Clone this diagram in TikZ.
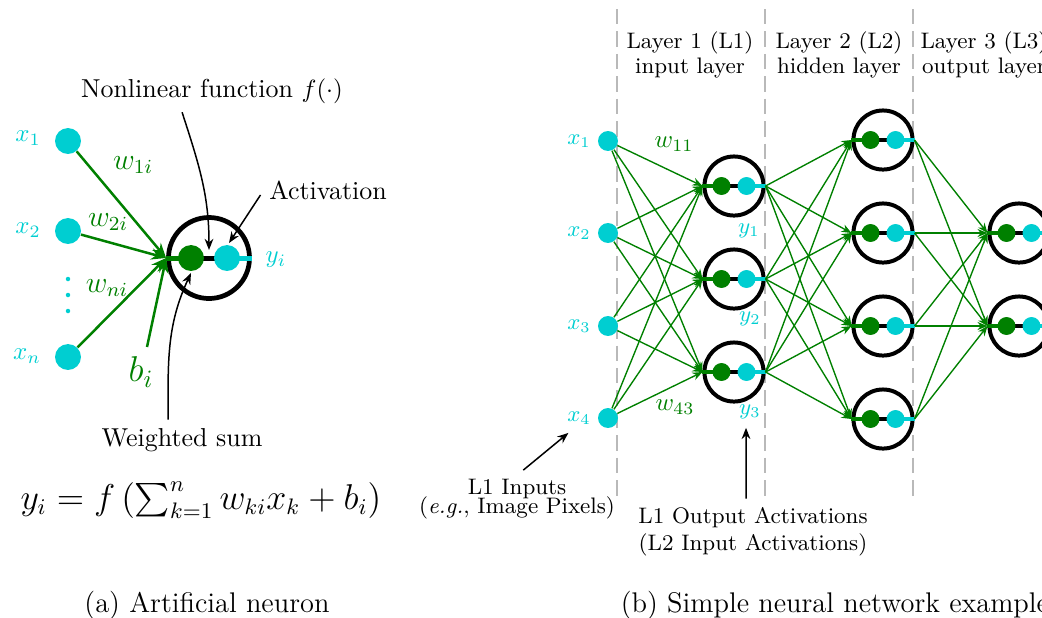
\documentclass[tikz,border=0pt]{standalone}
\definecolor{actcyan}{RGB}{0, 206, 209}
\definecolor{sumgreen}{RGB}{0, 128, 0}
\definecolor{dashgray}{RGB}{185, 185, 185}
\usepackage{tikz}
\usetikzlibrary{arrows.meta, positioning, calc}
\usepackage{amsmath, amssymb}

% inner part of a neuron: node, dot offset, dot radius, bar width
\newcommand{\cellcore}[4]{%
  \draw[sumgreen, line width=#4] (#1.west) -- ($(#1)+(-#2,0)$);
  \draw[line width=#4] ($(#1)+(-#2,0)$) -- ($(#1)+(#2,0)$);
  \draw[actcyan, line width=#4] ($(#1)+(#2,0)$) -- (#1.east);
  \fill[sumgreen] ($(#1)+(-#2,0)$) circle (#3);
  \fill[actcyan] ($(#1)+(#2,0)$) circle (#3);
}

\begin{document}
\begin{tikzpicture}[x=0.0141cm, y=-0.0141cm,
  bigcell/.style={circle, draw, line width=1.9pt, minimum size=32.5pt, inner sep=0pt},
  cell/.style={circle, draw, line width=1.6pt, minimum size=23.7pt, inner sep=0pt},
  inpt/.style={circle, fill=actcyan, inner sep=0pt, minimum size=#1},
  wire/.style={sumgreen, line width=1pt, -{Stealth[length=6pt, width=4.5pt]}},
  thinwire/.style={sumgreen, line width=0.55pt, -{Stealth[length=4pt, width=3.2pt]}},
  note/.style={line width=0.6pt, -{Stealth[length=4.5pt, width=3.5pt]}},
  layerline/.style={dashgray, line width=1pt, dash pattern=on 6.2pt off 2.8pt},
  txt/.style={font=\fontsize{10.4}{12.5}\selectfont}]
  \clip (0,0) rectangle (1042,617);

  % (a) single neuron
  \node[inpt=10.4pt] (xa1) at (68,141) {};
  \node[inpt=10.4pt] (xa2) at (68,231) {};
  \node[inpt=10.4pt] (xan) at (68,357) {};
  \fill[actcyan] (68,279) circle (0.9pt) (68,295) circle (0.9pt) (68,311) circle (0.9pt);
  \node[txt, actcyan] (lxa1) at (28,138) {$x_1$};
  \node[txt, actcyan] (lxa2) at (28,230) {$x_2$};
  \node[txt, actcyan] (lxan) at (27,356) {$x_n$};

  \node[bigcell] (nrn) at (209,258) {};
  \cellcore{nrn}{18}{5.2pt}{2pt}
  \coordinate (bias) at (147,347);
  \draw[wire] (xa1) -- (nrn.west);
  \draw[wire] (xa2) -- (nrn.west);
  \draw[wire] (xan) -- (nrn.west);
  \draw[wire] (bias) -- (nrn.west);
  \node[font=\large, sumgreen] (w1i) at (133,165) {$w_{1i}$};
  \node[font=\large, sumgreen] (w2i) at (108,222) {$w_{2i}$};
  \node[font=\large, sumgreen] (wni) at (107,288) {$w_{ni}$};
  \node[font=\Large, sumgreen] (bi) at (141,372) {$b_i$};
  \node[txt, actcyan] (yi) at (276,260) {$y_i$};

  \node[txt] (nlf) at (212,91) {Nonlinear function $f(\cdot)$};
  \node[txt] (act) at (328,190) {Activation};
  \node[txt] (wsum) at (182,440) {Weighted sum};
  \coordinate (nlf-in) at (209,250);
  \coordinate (act-in) at (229,243);
  \coordinate (wsum-in) at (191,273);
  \draw[note] ([xshift=-12pt]nlf.south) to[out=-72, in=90] (nlf-in);
  \draw[note] ([yshift=-2pt]act.west) -- (act-in);
  \draw[note] ([xshift=-5.6pt]wsum.north) to[out=90, in=-115] (wsum-in);

  \node[font=\fontsize{13.4}{16}\selectfont] (eqn) at (201,500)
    {$y_i = f\left(\sum_{k=1}^{n} w_{ki}x_k + b_i\right)$};
  \node[font=\fontsize{11.4}{13}\selectfont] (capa) at (207,605) {(a) Artificial neuron};

  % (b) small network
  \draw[layerline] (617,9) -- (617,497);
  \draw[layerline] (765,9) -- (765,497);
  \draw[layerline] (913,9) -- (913,497);
  \node[font=\small, align=center] (lay1) at (690,55) {Layer 1 (L1)\\[-1pt]input layer};
  \node[font=\small, align=center] (lay2) at (839,55) {Layer 2 (L2)\\[-1pt]hidden layer};
  \node[font=\small, align=center] (lay3) at (984,55) {Layer 3 (L3)\\[-1pt]output layer};

  \node[inpt=8pt] (in1) at (608,141) {};
  \node[inpt=8pt] (in2) at (608,233) {};
  \node[inpt=8pt] (in3) at (608,326) {};
  \node[inpt=8pt] (in4) at (608,418) {};
  \node[font=\small, actcyan] (lin1) at (579,141) {$x_1$};
  \node[font=\small, actcyan] (lin2) at (579,233) {$x_2$};
  \node[font=\small, actcyan] (lin3) at (579,326) {$x_3$};
  \node[font=\small, actcyan] (lin4) at (579,418) {$x_4$};

  \node[cell] (h1) at (734,186) {};
  \node[cell] (h2) at (734,279) {};
  \node[cell] (h3) at (734,372) {};
  \node[cell] (m1) at (883,140) {};
  \node[cell] (m2) at (883,233) {};
  \node[cell] (m3) at (883,326) {};
  \node[cell] (m4) at (883,419) {};
  \node[cell] (o1) at (1019,233) {};
  \node[cell] (o2) at (1019,326) {};
  \foreach \c in {h1,h2,h3,m1,m2,m3,m4,o1,o2} {
    \cellcore{\c}{12.5}{3.6pt}{1.6pt}
  }

  \foreach \i in {1,...,4}
    \foreach \j in {1,2,3}
      \draw[thinwire] (in\i) -- (h\j.west);
  \foreach \i in {1,2,3}
    \foreach \j in {1,...,4}
      \draw[thinwire] (h\i.east) -- (m\j.west);
  \foreach \i in {1,...,4}
    \foreach \j in {1,2}
      \draw[thinwire] (m\i.east) -- (o\j.west);

  \node[font=\small, actcyan] (ly1) at (749,231) {$y_1$};
  \node[font=\small, actcyan] (ly2) at (750,319) {$y_2$};
  \node[font=\small, actcyan] (ly3) at (750,412) {$y_3$};
  \node[sumgreen] (w11) at (674,144) {$w_{11}$};
  \node[sumgreen] (w43) at (675,407) {$w_{43}$};

  \node[font=\small, align=center] (l1in) at (517,499)
    {L1 Inputs\\[-3.3pt](\textit{e.g.}, Image Pixels)};
  \node[font=\small, align=center] (l1out) at (753,532)
    {L1 Output Activations\\(L2 Input Activations)};
  \draw[note] ([xshift=2.5pt]l1in.north) -- ([xshift=4pt]lin4.south west);
  \draw[note] ([xshift=-2.8pt]l1out.north) -- ([xshift=-1.6pt]ly3.south);

  \node[font=\fontsize{11.4}{13}\selectfont, anchor=west] (capb) at (612,605)
    {(b) Simple neural network example};
\end{tikzpicture}
\end{document}
